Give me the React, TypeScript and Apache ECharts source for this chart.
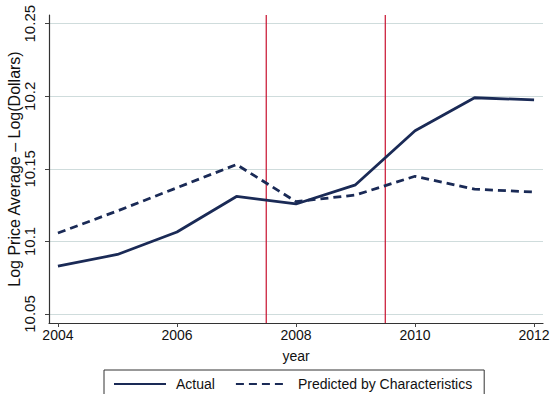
import React, { useEffect, useRef } from "react";
import * as echarts from "echarts";

const years = [2004, 2005, 2006, 2007, 2008, 2009, 2010, 2011, 2012];
const actual = [10.083, 10.091, 10.1065, 10.131, 10.1258, 10.139, 10.1763, 10.199, 10.1975];
const predicted = [10.1058, 10.121, 10.137, 10.153, 10.1274, 10.132, 10.1449, 10.136, 10.134];
const yTicks = [10.05, 10.1, 10.15, 10.2, 10.25];
const xTicks = [2004, 2006, 2008, 2010, 2012];
const breakYears = [2007.5, 2009.5];
const xRange = [2003.85, 2012.15];
const yRange = [10.0438, 10.256];

const NAVY = "#1a2a56";
const RED = "#c8102e";
const GRID = "#cfdcdc";
const FONT = "Liberation Sans, Arial, sans-serif";

export default function App() {
  const ref = useRef<HTMLDivElement>(null);
  useEffect(() => {
    if (!ref.current) return;
    const chart = echarts.init(ref.current, undefined, { renderer: "svg" });
    const breakSeries = breakYears.map((v, i) => ({
      name: "break" + i,
      type: "line",
      data: [[v, yRange[0]], [v, yRange[1]]],
      symbol: "none",
      silent: true,
      lineStyle: { color: RED, width: 1.2 },
      itemStyle: { color: RED },
      z: 2,
    }));
    chart.setOption({
      animation: false,
      textStyle: { fontFamily: FONT },
      grid: { left: 49, right: 9, top: 15, bottom: 71, containLabel: false, outerBoundsMode: "none" },
      legend: {
        left: 104,
        top: 370,
        borderColor: "#333",
        borderWidth: 1,
        borderRadius: 0,
        padding: [7, 12, 7, 9],
        itemWidth: 52,
        itemHeight: 12,
        itemGap: 20,
        itemStyle: { color: "transparent", borderWidth: 0, opacity: 0 },
        textStyle: { fontSize: 14, color: "#111", fontFamily: FONT, padding: [0, 0, 0, 5] },
        data: ["Actual", "Predicted by Characteristics"],
      },
      xAxis: {
        type: "value",
        min: xRange[0],
        max: xRange[1],
        name: "year",
        nameLocation: "middle",
        nameGap: 26,
        nameMoveOverlap: false,
        nameTextStyle: { fontSize: 14, color: "#111", fontFamily: FONT },
        axisLine: { show: true, lineStyle: { color: "#333", width: 1.2 } },
        axisTick: { show: true, length: 4, customValues: xTicks, lineStyle: { color: "#444" } },
        axisLabel: {
          customValues: xTicks,
          fontSize: 14,
          color: "#111",
          margin: 5,
          fontFamily: FONT,
          formatter: (v: number) => String(v),
        },
        splitLine: { show: false },
      },
      yAxis: {
        type: "value",
        min: yRange[0],
        max: yRange[1],
        name: "Log Price Average – Log(Dollars)",
        nameLocation: "middle",
        nameRotate: 90,
        nameGap: 27,
        nameMoveOverlap: false,
        nameTextStyle: { fontSize: 16, color: "#111", fontFamily: FONT },
        axisLine: { show: true, lineStyle: { color: "#333", width: 1.2 } },
        axisTick: { show: true, length: 4, customValues: yTicks, lineStyle: { color: "#444" } },
        axisLabel: {
          customValues: yTicks,
          rotate: 90,
          fontSize: 15,
          color: "#111",
          margin: 12,
          fontFamily: FONT,
          formatter: (v: number) => String(Number(v.toFixed(2))),
        },
        splitLine: { show: true, lineStyle: { color: GRID, width: 1 } },
      },
      series: [
        ...breakSeries,
        {
          name: "Actual",
          type: "line",
          data: years.map((y, i) => [y, actual[i]]),
          symbol: "none",
          lineStyle: { color: NAVY, width: 2.8 },
          itemStyle: { color: NAVY },
          z: 5,
        },
        {
          name: "Predicted by Characteristics",
          type: "line",
          data: years.map((y, i) => [y, predicted[i]]),
          symbol: "none",
          lineStyle: { color: NAVY, width: 2.8, type: [8, 5] },
          itemStyle: { color: NAVY },
          z: 5,
        },
      ],
    });
    return () => chart.dispose();
  }, []);
  return <div ref={ref} style={{ width: 552, height: 394, position: "absolute", left: 0, top: 0 }} />;
}
